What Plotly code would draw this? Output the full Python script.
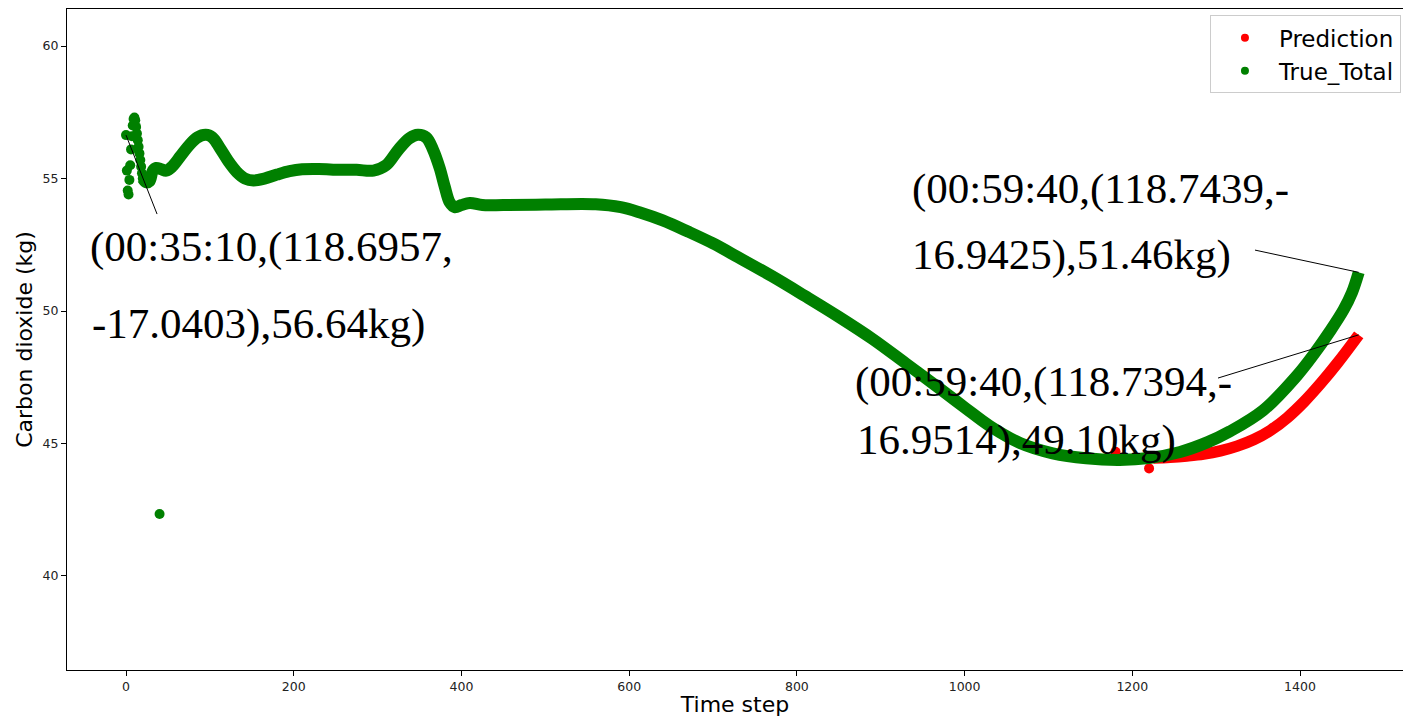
import plotly.graph_objects as go

# ---------------- data ----------------
# True_Total: early scattered points (time step, kg)
true_early_t = [0, 1, 2, 3, 4, 5, 6, 7, 8, 9, 10, 11, 12, 13, 14, 15, 16, 17, 18, 19, 20, 40]
true_early_v = [56.64, 55.30, 54.55, 54.40, 54.95, 55.50, 56.10, 56.60, 57.00, 57.25, 57.30,
                57.20, 56.95, 56.70, 56.45, 56.20, 55.95, 55.70, 55.45, 55.20, 55.00, 42.34]

# True_Total: dense main curve (read at sampled time steps)
true_t = [20, 24, 28, 32, 36, 42, 48, 55, 65, 75, 85, 95, 103, 112, 122, 132, 142, 152, 165,
          180, 195, 210, 230, 255, 275, 295, 310, 325, 338, 348, 358, 366, 374, 380, 386, 392,
          400, 410, 425, 450, 500, 560, 590, 613, 640, 670, 700, 730, 770, 810, 850, 890, 930,
          970, 1000, 1030, 1066, 1105, 1145, 1185, 1220, 1257, 1290, 1316, 1356, 1396, 1416,
          1436, 1452, 1462, 1470]
true_v = [55.00, 54.86, 54.90, 55.30, 55.40, 55.35, 55.30, 55.45, 55.85, 56.25, 56.55, 56.65,
          56.55, 56.15, 55.65, 55.25, 55.00, 54.93, 55.00, 55.15, 55.28, 55.35, 55.36, 55.33,
          55.33, 55.30, 55.50, 56.10, 56.52, 56.65, 56.55, 56.10, 55.40, 54.70, 54.10, 53.92,
          54.00, 54.08, 54.00, 54.00, 54.02, 54.03, 53.92, 53.72, 53.42, 53.00, 52.55, 52.03,
          51.32, 50.56, 49.78, 48.95, 48.02, 47.08, 46.36, 45.66, 45.02, 44.63, 44.44, 44.38,
          44.45, 44.68, 45.05, 45.45, 46.25, 47.55, 48.35, 49.25, 50.05, 50.70, 51.46]

# Prediction
pred_early_t = [1180, 1220]
pred_early_v = [44.69, 44.06]
pred_t = [1225, 1245, 1265, 1285, 1305, 1325, 1345, 1365, 1385, 1405, 1425, 1445, 1470]
pred_v = [44.45, 44.48, 44.53, 44.60, 44.72, 44.90, 45.15, 45.50, 45.98, 46.58, 47.28, 48.05, 49.10]

# annotation texts (two lines each) and their anchor positions (data coords)
ann_lines = ["(00:35:10,(118.6957,", "-17.0403),56.64kg)",
             "(00:59:40,(118.7439,-", "16.9425),51.46kg)",
             "(00:59:40,(118.7394,-", "16.9514),49.10kg)"]
ann_x = [-45.3, -42.9, 934.9, 934.9, 866.9, 869.3]
ann_y = [52.40, 49.50, 54.60, 52.13, 47.33, 45.15]

# connector lines: from data point to label
conn_from_t = [0, 1470, 1470]
conn_from_v = [56.64, 51.46, 49.10]
conn_to_t = [37.0, 1346.3, 1302.2]
conn_to_v = [53.66, 52.30, 47.47]

RED = "#ff0000"
GREEN = "#008000"

fig = go.Figure()

# Prediction (drawn first, beneath)
fig.add_trace(go.Scatter(x=pred_t, y=pred_v, mode="lines",
                         line=dict(color=RED, width=11.5, shape="spline", smoothing=1.0),
                         showlegend=False, hoverinfo="skip"))
fig.add_trace(go.Scatter(x=pred_early_t, y=pred_early_v, mode="markers",
                         marker=dict(color=RED, size=10), showlegend=False))

# True_Total
fig.add_trace(go.Scatter(x=true_t, y=true_v, mode="lines",
                         line=dict(color=GREEN, width=12, shape="spline", smoothing=1.0),
                         showlegend=False, hoverinfo="skip"))
fig.add_trace(go.Scatter(x=true_early_t, y=true_early_v, mode="markers",
                         marker=dict(color=GREEN, size=10), showlegend=False))

# legend entries
fig.add_trace(go.Scatter(x=[None], y=[None], mode="markers", name="Prediction",
                         marker=dict(color=RED, size=8)))
fig.add_trace(go.Scatter(x=[None], y=[None], mode="markers", name="True_Total",
                         marker=dict(color=GREEN, size=8)))

shapes = []
for x0, y0, x1, y1 in zip(conn_from_t, conn_from_v, conn_to_t, conn_to_v):
    shapes.append(dict(type="line", xref="x", yref="y", x0=x0, y0=y0, x1=x1, y1=y1,
                       line=dict(color="black", width=1)))

annotations = []
for txt, ax_, ay_ in zip(ann_lines, ann_x, ann_y):
    annotations.append(dict(x=ax_, y=ay_, xref="x", yref="y", text=txt, showarrow=False,
                            xanchor="left", yanchor="middle",
                            font=dict(family="Liberation Serif", size=43, color="black")))

fig.update_layout(
    width=1403, height=717,
    margin=dict(l=67, r=0, t=9, b=47),
    paper_bgcolor="white", plot_bgcolor="white",
    font=dict(family="DejaVu Sans", color="black"),
    shapes=shapes, annotations=annotations,
    legend=dict(x=0.8555, y=0.9905, xanchor="left", yanchor="top",
                font=dict(family="DejaVu Sans", size=23, color="black"),
                bgcolor="rgba(255,255,255,0.8)", bordercolor="#cccccc", borderwidth=1,
                itemwidth=58, tracegroupgap=0),
    showlegend=True,
)
fig.update_xaxes(range=[-70.4, 1522.8], showgrid=False, zeroline=False,
                 showline=True, linecolor="black", linewidth=1, mirror=True,
                 ticks="outside", ticklen=5, tickcolor="black",
                 tickvals=[0, 200, 400, 600, 800, 1000, 1200, 1400],
                 tickfont=dict(family="DejaVu Sans", size=12.5, color="#222222"),
                 title=dict(text="Time step", font=dict(family="DejaVu Sans", size=22, color="black"),
                            standoff=8))
fig.update_yaxes(range=[36.45, 61.4], showgrid=False, zeroline=False,
                 showline=True, linecolor="black", linewidth=1, mirror=False,
                 ticks="outside", ticklen=5, tickcolor="black",
                 tickvals=[40, 45, 50, 55, 60],
                 tickfont=dict(family="DejaVu Sans", size=12.5, color="#222222"),
                 title=dict(text="Carbon dioxide (kg)", font=dict(family="DejaVu Sans", size=22, color="black"),
                            standoff=3))

fig.write_html("out.html")
